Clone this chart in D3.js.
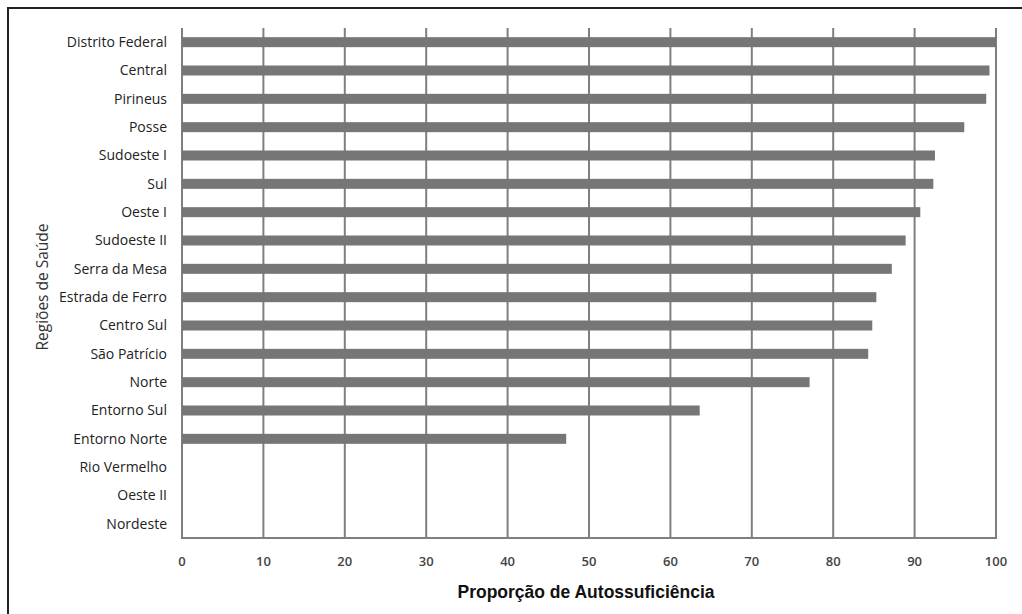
<!DOCTYPE html>
<html>
<head>
<meta charset="utf-8">
<script src="https://cdn.jsdelivr.net/npm/d3@7"></script>
<style>
  html, body { margin: 0; padding: 0; background: #fff; }
  svg { display: block; }
</style>
</head>
<body>
<script>
const categories = ["Distrito Federal","Central","Pirineus","Posse","Sudoeste I","Sul","Oeste I","Sudoeste II","Serra da Mesa","Estrada de Ferro","Centro Sul","São Patrício","Norte","Entorno Sul","Entorno Norte","Rio Vermelho","Oeste II","Nordeste"];
const values = [100, 99.2, 98.8, 96.1, 92.5, 92.3, 90.7, 88.9, 87.2, 85.3, 84.8, 84.3, 77.1, 63.6, 47.2, 0, 0, 0];
const xTicks = [0,10,20,30,40,50,60,70,80,90,100];
const xTitle = "Proporção de Autossuficiência";
const yTitle = "Regiões de Saúde";

(function () {
const W = 1022, H = 614;
const svg = d3.select("body").append("svg").attr("width", W).attr("height", H);

// outer frame
svg.append("path").attr("d", `M8,${H} L8,8 L${W},8`).attr("fill","none").attr("stroke","#222").attr("stroke-width",2);

const mL = 182, mR = 996, mT = 28, mB = 538;
const x = d3.scaleLinear().domain([0,100]).range([mL, mR]);
const y = d3.scaleBand().domain(categories).range([mT, mB]).paddingInner(0.68).paddingOuter(0.34);

// gridlines
svg.append("g").selectAll("line").data(xTicks).join("line")
  .attr("x1", d => x(d)).attr("x2", d => x(d))
  .attr("y1", mT).attr("y2", mB)
  .attr("stroke", "#7f7f7f").attr("stroke-width", 2);

// bottom axis line
svg.append("line").attr("x1", mL - 1).attr("x2", mR + 1).attr("y1", mB).attr("y2", mB)
  .attr("stroke", "#7f7f7f").attr("stroke-width", 2);

// bars
svg.append("g").selectAll("rect").data(categories).join("rect")
  .attr("x", x(0)).attr("y", (d) => y(d) + y.bandwidth()/2 - 5)
  .attr("width", (d,i) => x(values[i]) - x(0))
  .attr("height", 10)
  .attr("fill", "#767676");

// category labels
svg.append("g").selectAll("text").data(categories).join("text")
  .attr("x", 167).attr("y", d => y(d) + y.bandwidth()/2)
  .attr("dy", "0.35em")
  .attr("text-anchor", "end")
  .attr("font-family", "Open Sans")
  .attr("font-size", 14)
  .attr("fill", "#222")
  .text(d => d);

// x tick labels
svg.append("g").selectAll("text").data(xTicks).join("text")
  .attr("x", d => x(d)).attr("y", 561).attr("dy","0.35em")
  .attr("text-anchor","middle")
  .attr("font-family","Open Sans")
  .attr("font-weight", 600)
  .attr("font-size", 13)
  .attr("fill","#444")
  .text(d => d);

// x title
svg.append("text").attr("x", 586).attr("y", 592).attr("dy","0.35em")
  .attr("text-anchor","middle")
  .attr("font-family","Liberation Sans")
  .attr("font-weight","bold")
  .attr("font-size", 17.5)
  .attr("fill","#111")
  .text(xTitle);

// y title
svg.append("text").attr("transform", "translate(43,287) rotate(-90)")
  .attr("dy","0.35em")
  .attr("text-anchor","middle")
  .attr("font-family","Open Sans")
  .attr("font-size", 15.5)
  .attr("fill","#333")
  .text(yTitle);
})();
</script>
</body>
</html>
